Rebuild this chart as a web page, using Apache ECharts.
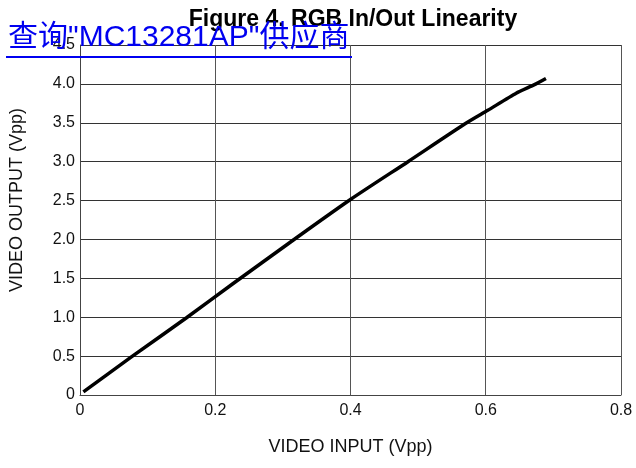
<!DOCTYPE html>
<html>
<head>
<meta charset="utf-8">
<script src="https://cdn.jsdelivr.net/npm/echarts@6/dist/echarts.min.js"></script>
<style>html,body{margin:0;padding:0;background:#fff}#c{width:636px;height:468px}</style>
</head>
<body>
<div id="c"></div>
<script>
const titleText = 'Figure 4. RGB In/Out Linearity';
const linkText = '查询"MC13281AP"供应商';
const xAxisName = 'VIDEO INPUT (Vpp)';
const yAxisName = 'VIDEO OUTPUT (Vpp)';
const videoInput = [0.005, 0.076, 0.157, 0.226, 0.315, 0.401, 0.485, 0.570, 0.603, 0.645, 0.672, 0.689];
const videoOutput = [0.04, 0.49, 0.99, 1.43, 1.99, 2.52, 3.00, 3.49, 3.66, 3.88, 3.99, 4.07];

const chart = echarts.init(document.getElementById('c'), null, {renderer: 'canvas'});
const font = '"Liberation Sans", Arial, sans-serif';
chart.setOption({
  animation: false,
  backgroundColor: '#fff',
  title: {
    text: titleText,
    left: 348, top: 3, textAlign: 'center',
    textStyle: {fontFamily: font, fontSize: 23, fontWeight: 'bold', color: '#000'}
  },
  grid: {left: 79, right: 15, top: 45, bottom: 73},
  xAxis: {
    type: 'value', min: 0, max: 0.8, interval: 0.2,
    name: xAxisName, nameLocation: 'middle', nameGap: 43,
    nameTextStyle: {fontFamily: font, fontSize: 18, color: '#111'},
    axisLine: {show: true, lineStyle: {color: '#444', width: 1}},
    axisTick: {show: false},
    axisLabel: {fontFamily: font, fontSize: 16, color: '#111', margin: 8,
      formatter: v => v === 0 ? '0' : v.toFixed(1)},
    splitLine: {show: true, lineStyle: {color: '#555', width: 1}}
  },
  yAxis: {
    type: 'value', min: 0, max: 4.5, interval: 0.5,
    name: yAxisName, nameLocation: 'middle', nameGap: 54,
    nameTextStyle: {fontFamily: font, fontSize: 18, color: '#111', padding: [0, 0, 0, 40]},
    axisLine: {show: true, lineStyle: {color: '#444', width: 1}},
    axisTick: {show: false},
    axisLabel: {fontFamily: font, fontSize: 16, color: '#111', margin: 5,
      formatter: v => v === 0 ? '0' : v.toFixed(1)},
    splitLine: {show: true, lineStyle: {color: '#333', width: 1}}
  },
  graphic: [
    {type: 'text', left: 8, top: 23, z: 100,
     style: {text: linkText, fill: '#0000f0', font: '30px "Liberation Sans", "Noto Sans CJK SC", sans-serif'}},
    {type: 'rect', shape: {x: 6, y: 56, width: 346, height: 2}, z: 100, style: {fill: '#0000f0'}}
  ],
  series: [{
    type: 'line',
    data: videoInput.map((x, i) => [x, videoOutput[i]]),
    showSymbol: false, smooth: 0.2,
    lineStyle: {color: '#000', width: 3.5},
    z: 5
  }]
});
</script>
</body>
</html>
